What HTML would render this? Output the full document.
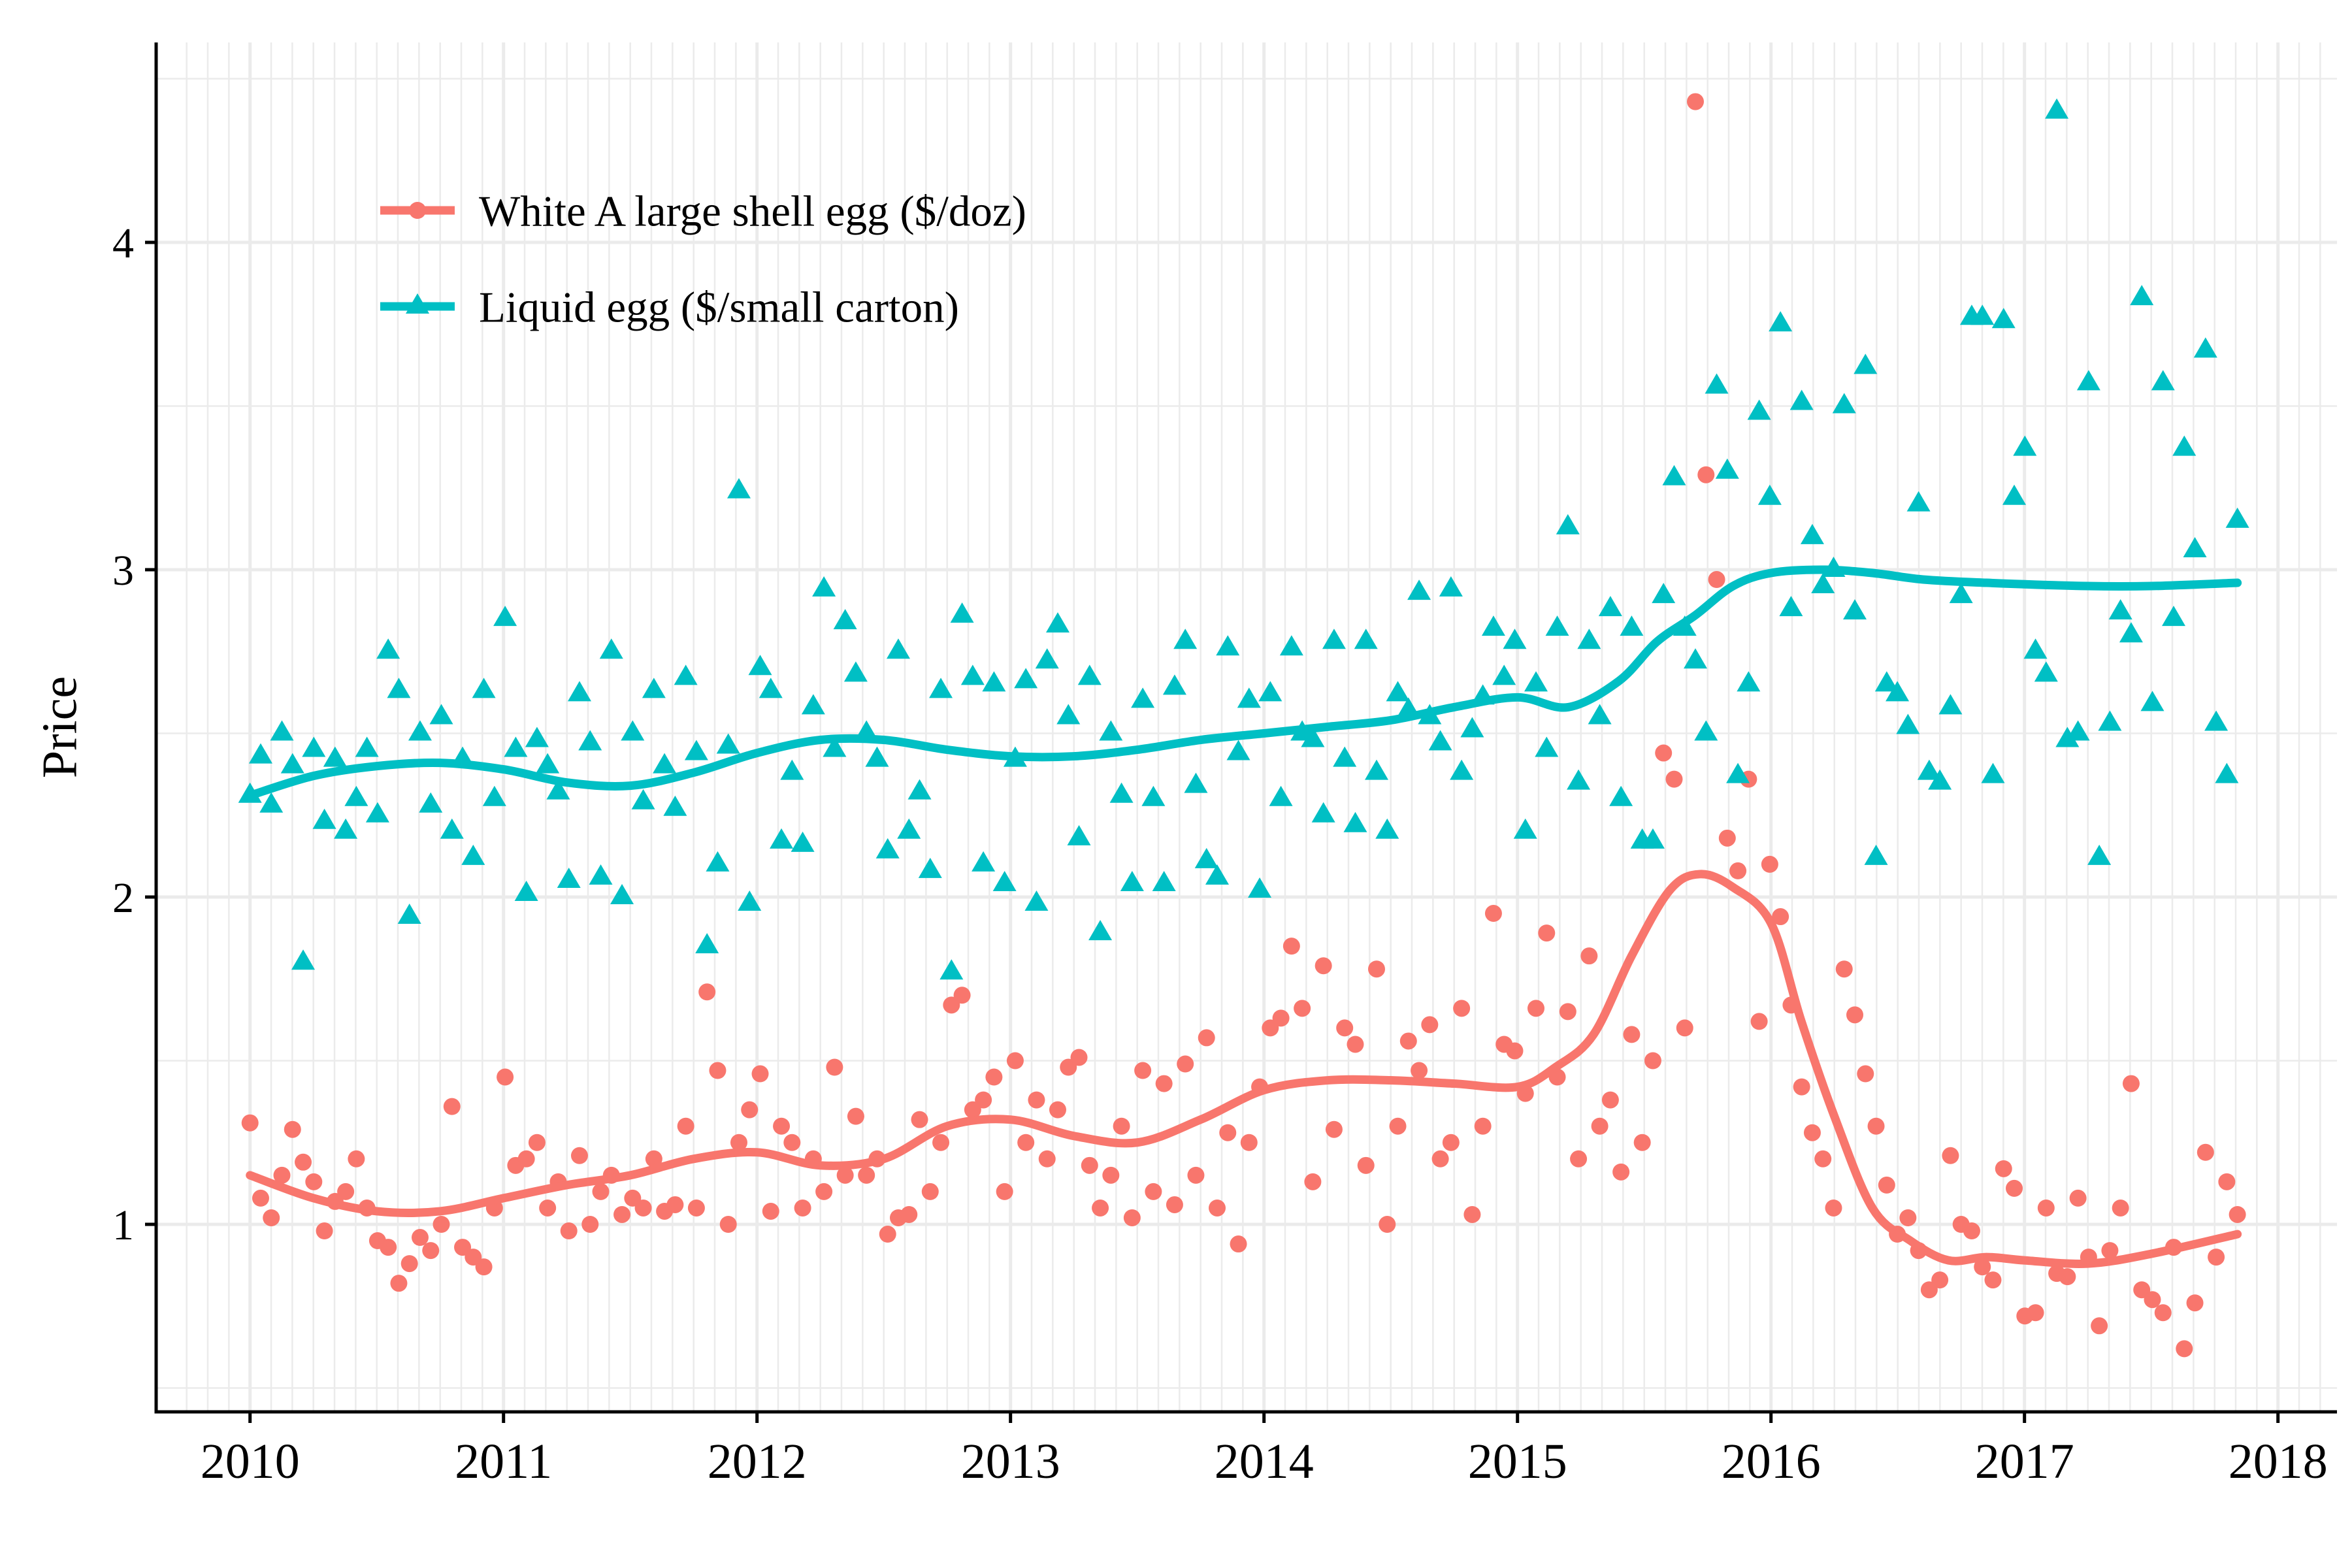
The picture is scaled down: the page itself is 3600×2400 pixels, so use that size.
<!DOCTYPE html>
<html><head><meta charset="utf-8">
<style>
html,body{margin:0;padding:0;background:#fff;}
svg{display:block;font-family:"Liberation Serif","DejaVu Serif",serif;}
</style></head>
<body>
<svg id="chart" width="3600" height="2400" viewBox="0 0 3600 2400" xmlns="http://www.w3.org/2000/svg">
<rect x="0" y="0" width="3600" height="2400" fill="#fff"/>
<g id="grid"></g>
<g id="marks"></g>
<g id="axes"></g>
<text x="90" y="1113" font-size="76" text-anchor="middle" transform="rotate(-90 90 1113)" dy="0.35em">Price</text>
<g>
  <g>
    <line x1="582" y1="322" x2="696" y2="322" stroke="#F8766D" stroke-width="13"/>
    <circle cx="639" cy="322" r="13" fill="#F8766D"/>
    <text x="733" y="322" dy="0.35em" font-size="67">White A large shell egg ($/doz)</text>
  </g>
  <g>
    <line x1="582" y1="469" x2="696" y2="469" stroke="#00BFC4" stroke-width="13"/>
    <polygon points="639,449 657,480 621,480" fill="#00BFC4"/>
    <text x="733" y="469" dy="0.35em" font-size="67">Liquid egg ($/small carton)</text>
  </g>
</g>
</svg>
<script>
const startYear = 2010;
const endYear = 2017.84;
const xTickLabels = ["2010","2011","2012","2013","2014","2015","2016","2017","2018"];
const yTickLabels = ["1","2","3","4"];
const whiteEgg = [
1.31,1.08,1.02,1.15,1.29,1.19,1.13,0.98,1.07,1.10,1.20,1.05,0.95,0.93,0.82,0.88,0.96,0.92,1.00,1.36,0.93,0.90,0.87,1.05,
1.45,1.18,1.20,1.25,1.05,1.13,0.98,1.21,1.00,1.10,1.15,1.03,1.08,1.05,1.20,1.04,1.06,1.30,1.05,1.71,1.47,1.00,1.25,1.35,
1.46,1.04,1.30,1.25,1.05,1.20,1.10,1.48,1.15,1.33,1.15,1.20,0.97,1.02,1.03,1.32,1.10,1.25,1.67,1.70,1.35,1.38,1.45,1.10,
1.50,1.25,1.38,1.20,1.35,1.48,1.51,1.18,1.05,1.15,1.30,1.02,1.47,1.10,1.43,1.06,1.49,1.15,1.57,1.05,1.28,0.94,1.25,1.42,
1.60,1.63,1.85,1.66,1.13,1.79,1.29,1.60,1.55,1.18,1.78,1.00,1.30,1.56,1.47,1.61,1.20,1.25,1.66,1.03,1.30,1.95,1.55,1.53,
1.40,1.66,1.89,1.45,1.65,1.20,1.82,1.30,1.38,1.16,1.58,1.25,1.50,2.44,2.36,1.60,4.43,3.29,2.97,2.18,2.08,2.36,1.62,2.10,
1.94,1.67,1.42,1.28,1.20,1.05,1.78,1.64,1.46,1.30,1.12,0.97,1.02,0.92,0.80,0.83,1.21,1.00,0.98,0.87,0.83,1.17,1.11,0.72,
0.73,1.05,0.85,0.84,1.08,0.90,0.69,0.92,1.05,1.43,0.80,0.77,0.73,0.93,0.62,0.76,1.22,0.90,1.13,1.03];
const liquidEgg = [
2.31,2.43,2.28,2.50,2.40,1.80,2.45,2.23,2.42,2.20,2.30,2.45,2.25,2.75,2.63,1.94,2.50,2.28,2.55,2.20,2.42,2.12,2.63,2.30,
2.85,2.45,2.01,2.48,2.40,2.32,2.05,2.62,2.47,2.06,2.75,2.00,2.50,2.29,2.63,2.40,2.27,2.67,2.44,1.85,2.10,2.46,3.24,1.98,
2.70,2.63,2.17,2.38,2.16,2.58,2.94,2.45,2.84,2.68,2.50,2.42,2.14,2.75,2.20,2.32,2.08,2.63,1.77,2.86,2.67,2.10,2.65,2.04,
2.42,2.66,1.98,2.72,2.83,2.55,2.18,2.67,1.89,2.50,2.31,2.04,2.60,2.30,2.04,2.64,2.78,2.34,2.11,2.06,2.76,2.44,2.60,2.02,
2.62,2.30,2.76,2.50,2.48,2.25,2.78,2.42,2.22,2.78,2.38,2.20,2.62,2.57,2.93,2.55,2.47,2.94,2.38,2.51,2.61,2.82,2.67,2.78,
2.20,2.65,2.45,2.82,3.13,2.35,2.78,2.55,2.88,2.30,2.82,2.17,2.17,2.92,3.28,2.82,2.72,2.50,3.56,3.30,2.37,2.65,3.48,3.22,
3.75,2.88,3.51,3.10,2.95,3.00,3.50,2.87,3.62,2.12,2.65,2.62,2.52,3.20,2.38,2.35,2.58,2.92,3.77,3.77,2.37,3.76,3.22,3.37,
2.75,2.68,4.40,2.48,2.50,3.57,2.12,2.53,2.87,2.80,3.83,2.59,3.57,2.85,3.37,3.06,3.67,2.53,2.37,3.15];
const whiteSmoothX = [2010,2010.25,2010.5,2010.75,2011,2011.25,2011.5,2011.75,2012,2012.25,2012.5,2012.75,2013,2013.25,2013.5,2013.75,2014,2014.25,2014.5,2014.75,2015,2015.15,2015.3,2015.45,2015.6,2015.72,2015.85,2016,2016.12,2016.25,2016.4,2016.55,2016.7,2016.85,2017,2017.25,2017.5,2017.84];
const whiteSmoothY = [1.15,1.08,1.04,1.04,1.08,1.12,1.15,1.20,1.22,1.18,1.20,1.30,1.32,1.27,1.25,1.32,1.41,1.44,1.44,1.43,1.42,1.48,1.58,1.82,2.02,2.07,2.03,1.92,1.62,1.33,1.05,0.95,0.89,0.90,0.89,0.88,0.91,0.97];
const liquidSmoothX = [2010,2010.25,2010.5,2010.75,2011,2011.25,2011.5,2011.75,2012,2012.25,2012.5,2012.75,2013,2013.25,2013.5,2013.75,2014,2014.25,2014.5,2014.75,2015,2015.2,2015.4,2015.55,2015.7,2015.85,2016,2016.2,2016.4,2016.6,2016.85,2017.25,2017.5,2017.84];
const liquidSmoothY = [2.31,2.37,2.40,2.41,2.39,2.35,2.34,2.38,2.44,2.48,2.48,2.45,2.43,2.43,2.45,2.48,2.50,2.52,2.54,2.58,2.61,2.58,2.66,2.78,2.86,2.95,2.99,3.00,2.99,2.97,2.96,2.95,2.95,2.96];

const NS = "http://www.w3.org/2000/svg";
const X0 = 382.7, XPER = 388, Y1 = 1874, YPER = 501;
const LEFT = 239, RIGHT = 3577, TOP = 65, BOTTOM = 2161;
function xs(t){ return X0 + (t - 2010) * XPER; }
function ys(v){ return Y1 - (v - 1) * YPER; }
function mk(tag, attrs, parent){ const e = document.createElementNS(NS, tag); for (const k in attrs) e.setAttribute(k, attrs[k]); parent.appendChild(e); return e; }

const grid = document.getElementById('grid');
const marks = document.getElementById('marks');
const axes = document.getElementById('axes');

for (let m = -3; m <= 8*12 + 3; m++) {
  const t = 2010 + m / 12;
  const x = xs(t);
  if (x < LEFT + 2 || x > RIGHT) continue;
  const major = (m % 12 === 0);
  const l = mk('line', {x1:x, y1:TOP, x2:x, y2:BOTTOM, stroke:'#ebebeb', 'stroke-width': major ? 5 : 2.5}, grid);
  
  
}
for (let k = 1; k <= 9; k++) {
  const v = k * 0.5;
  const y = ys(v);
  if (y < TOP || y > BOTTOM) continue;
  const major = (k % 2 === 0);
  const l = mk('line', {x1:LEFT, y1:y, x2:RIGHT, y2:y, stroke:'#ebebeb', 'stroke-width': major ? 5 : 2.5}, grid);
  
  
}

function dateAt(i, n){ return startYear + i * (endYear - startYear) / (n - 1); }

whiteEgg.forEach((v, i) => {
  const c = mk('circle', {cx: xs(dateAt(i, whiteEgg.length)), cy: ys(v), r: 13, fill:'#F8766D'}, marks);
  
  
});
liquidEgg.forEach((v, i) => {
  const x = xs(dateAt(i, liquidEgg.length)), y = ys(v);
  const p = mk('polygon', {points: `${x},${y-20} ${x+18},${y+11} ${x-18},${y+11}`, fill:'#00BFC4'}, marks);
  
  
});

function smoothPath(xa, ya){
  const pts = xa.map((t, i) => [xs(t), ys(ya[i])]);
  let d = `M${pts[0][0]},${pts[0][1]}`;
  for (let i = 0; i < pts.length - 1; i++) {
    const p0 = pts[Math.max(0, i-1)], p1 = pts[i], p2 = pts[i+1], p3 = pts[Math.min(pts.length-1, i+2)];
    const c1 = [p1[0] + (p2[0]-p0[0])/6, p1[1] + (p2[1]-p0[1])/6];
    const c2 = [p2[0] - (p3[0]-p1[0])/6, p2[1] - (p3[1]-p1[1])/6];
    d += ` C${c1[0]},${c1[1]} ${c2[0]},${c2[1]} ${p2[0]},${p2[1]}`;
  }
  return d;
}
const wl = mk('path', {d: smoothPath(whiteSmoothX, whiteSmoothY), fill:'none', stroke:'#F8766D', 'stroke-width': 13, 'stroke-linecap':'round'}, marks);


const ll = mk('path', {d: smoothPath(liquidSmoothX, liquidSmoothY), fill:'none', stroke:'#00BFC4', 'stroke-width': 13, 'stroke-linecap':'round'}, marks);



const ax = mk('line', {x1:LEFT, y1:BOTTOM, x2:RIGHT, y2:BOTTOM, stroke:'#000', 'stroke-width':5}, axes);


const ay = mk('line', {x1:LEFT, y1:TOP, x2:LEFT, y2:BOTTOM+2.5, stroke:'#000', 'stroke-width':5}, axes);


xTickLabels.forEach((lab, i) => {
  const x = xs(2010 + i);
  const t = mk('line', {x1:x, y1:BOTTOM, x2:x, y2:BOTTOM+17, stroke:'#000', 'stroke-width':5}, axes);
  
  
  const tx = mk('text', {x:x, y:2262, 'font-size':76, 'text-anchor':'middle'}, axes);
  tx.textContent = lab;
  
  
});
yTickLabels.forEach((lab) => {
  const y = ys(parseFloat(lab));
  const t = mk('line', {x1:LEFT-17, y1:y, x2:LEFT, y2:y, stroke:'#000', 'stroke-width':5}, axes);
  
  
  const tx = mk('text', {x:205, y:y, dy:'0.35em', 'font-size':66, 'text-anchor':'end'}, axes);
  tx.textContent = lab;
  
  
});
</script>
</body></html>
